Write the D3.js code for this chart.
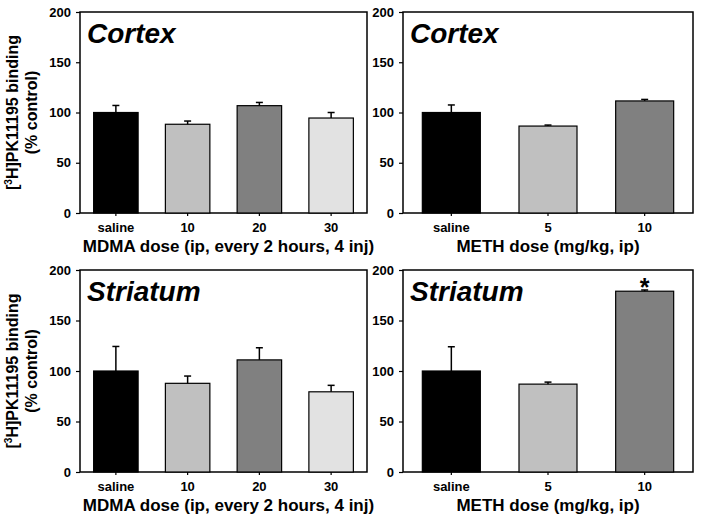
<!DOCTYPE html>
<html><head><meta charset="utf-8">
<script src="https://cdn.jsdelivr.net/npm/d3@7"></script>
<style>
body{margin:0;background:#fff;}
text{font-family:"Liberation Sans",Arial,sans-serif;font-weight:bold;}
</style></head>
<body><svg id="c" width="704" height="518"></svg>
<script>
const mdmaCategories = ["saline","10","20","30"];
const methCategories = ["saline","5","10"];
const mdmaColors = ["#000000","#c0c0c0","#808080","#e2e2e2"];
const methColors = ["#000000","#c0c0c0","#808080"];
const yTicks = [0,50,100,150,200];

const cortexMdmaMean = [100, 88.3, 106.8, 94.5];
const cortexMdmaErr  = [7, 3.2, 3.2, 5.5];
const cortexMethMean = [100, 86.5, 111.5];
const cortexMethErr  = [7.5, 1, 1.5];
const striatumMdmaMean = [100, 87.8, 111, 79.4];
const striatumMdmaErr  = [24.3, 7.2, 12, 6.4];
const striatumMethMean = [100, 87, 179];
const striatumMethErr  = [24, 2, 1.2];
const striatumMethSig = ["", "", "*"];

const svg = d3.select("#c");

function panel(opt){
  const g = svg.append("g");
  const x = d3.scaleBand().domain(opt.cats).range([opt.x0, opt.x1]).paddingInner(opt.pad).paddingOuter(opt.pad/2);
  const y = d3.scaleLinear().domain([0,200]).range([opt.y0, opt.y1]);
  g.append("rect").attr("x",opt.x0).attr("y",opt.y1).attr("width",opt.x1-opt.x0).attr("height",opt.y0-opt.y1)
    .attr("fill","none").attr("stroke","#000").attr("stroke-width",1.5);
  g.selectAll(".bar").data(opt.mean).enter().append("rect")
    .attr("x",(d,i)=>x(opt.cats[i])).attr("width",x.bandwidth())
    .attr("y",d=>y(d)).attr("height",d=>opt.y0-y(d))
    .attr("fill",(d,i)=>opt.colors[i]).attr("stroke","#000").attr("stroke-width",1.2);
  opt.mean.forEach((m,i)=>{
    const cx = x(opt.cats[i]) + x.bandwidth()/2;
    g.append("line").attr("x1",cx).attr("x2",cx).attr("y1",y(m)).attr("y2",y(m+opt.err[i])).attr("stroke","#000").attr("stroke-width",1.5);
    g.append("line").attr("x1",cx-3.5).attr("x2",cx+3.5).attr("y1",y(m+opt.err[i])).attr("y2",y(m+opt.err[i])).attr("stroke","#000").attr("stroke-width",1.5);
    if(opt.sig && opt.sig[i]){
      g.append("text").attr("x",cx).attr("y",y(m+opt.err[i])+6).attr("text-anchor","middle")
        .attr("font-size",25).text(opt.sig[i]);
    }
  });
  const ya = d3.axisLeft(y).tickValues(yTicks).tickSize(4).tickPadding(5);
  const yg = g.append("g").attr("transform",`translate(${opt.x0},0)`).call(ya);
  yg.select(".domain").remove();
  yg.selectAll("line").attr("stroke-width",1.2);
  yg.selectAll("text").attr("font-size",13).attr("font-family","Liberation Sans, Arial").attr("font-weight","bold");
  const xa = d3.axisBottom(x).tickSize(3).tickPadding(7);
  const xg = g.append("g").attr("transform",`translate(0,${opt.y0})`).call(xa);
  xg.select(".domain").remove();
  xg.selectAll("line").attr("stroke-width",1.2);
  xg.selectAll("text").attr("font-size",13).attr("font-family","Liberation Sans, Arial").attr("font-weight","bold");
  g.append("text").attr("x",(opt.x0+opt.x1)/2 + (opt.titleDx||0)).attr("y",opt.y0+39).attr("text-anchor","middle")
    .attr("font-size",17).text(opt.xTitle);
  g.append("text").attr("x",opt.x0+7).attr("y",opt.y1+31).attr("font-size",28).attr("font-style","italic").text(opt.region);
  if(opt.yTitle){
    const cy = (opt.y0+opt.y1)/2;
    const t = g.append("text").attr("transform",`translate(18,${cy}) rotate(-90)`).attr("text-anchor","middle").attr("font-size",16);
    t.append("tspan").text("[");
    t.append("tspan").attr("font-size",10).attr("dy",-6).text("3");
    t.append("tspan").attr("dy",6).text("H]PK11195 binding");
    g.append("text").attr("transform",`translate(37,${cy}) rotate(-90)`).attr("text-anchor","middle").attr("font-size",16).text("(% control)");
  }
}

panel({x0:80,x1:367,y0:213,y1:12,cats:mdmaCategories,mean:cortexMdmaMean,err:cortexMdmaErr,colors:mdmaColors,pad:0.38,
  xTitle:"MDMA dose (ip, every 2 hours, 4 inj)",region:"Cortex",yTitle:true,titleDx:5});
panel({x0:403,x1:693,y0:213,y1:12,cats:methCategories,mean:cortexMethMean,err:cortexMethErr,colors:methColors,pad:0.4,
  xTitle:"METH dose (mg/kg, ip)",region:"Cortex"});
panel({x0:80,x1:367,y0:472,y1:270,cats:mdmaCategories,mean:striatumMdmaMean,err:striatumMdmaErr,colors:mdmaColors,pad:0.38,
  xTitle:"MDMA dose (ip, every 2 hours, 4 inj)",region:"Striatum",yTitle:true,titleDx:5});
panel({x0:403,x1:693,y0:472,y1:270,cats:methCategories,mean:striatumMethMean,err:striatumMethErr,colors:methColors,pad:0.4,
  xTitle:"METH dose (mg/kg, ip)",region:"Striatum",sig:striatumMethSig});
</script></body></html>
